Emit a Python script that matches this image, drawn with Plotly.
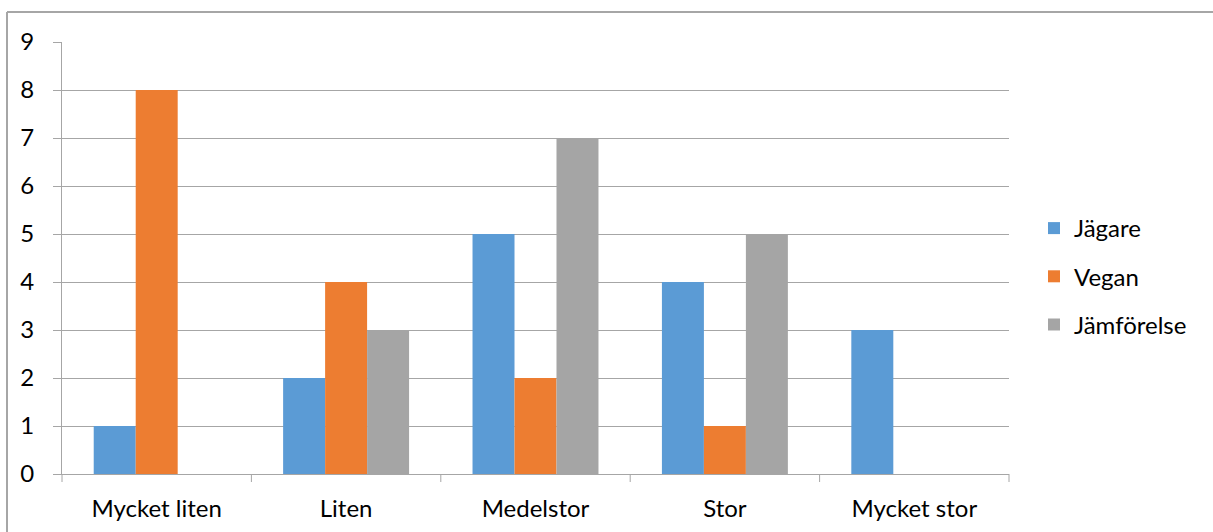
import plotly.graph_objects as go

categories = ["Mycket liten", "Liten", "Medelstor", "Stor", "Mycket stor"]
jagare = [1, 2, 5, 4, 3]
vegan = [8, 4, 2, 1, 0]
jamforelse = [0, 3, 7, 5, 0]

series = [
    ("Jägare", jagare, "#5B9BD5"),
    ("Vegan", vegan, "#ED7D31"),
    ("Jämförelse", jamforelse, "#A5A5A5"),
]

FONT = "Lato, 'Open Sans', sans-serif"
FS = 24

fig = go.Figure()
for name, vals, color in series:
    fig.add_trace(go.Bar(
        x=categories, y=vals, name=name, legendgroup=name,
        marker=dict(color=color, line=dict(width=0)),
    ))

W, H = 1213, 532
ml, mr, mt, mb = 62, 204, 42, 58
pw, ph = W - ml - mr, H - mt - mb

def px_x(p):
    return (p - ml) / pw

def px_y(p):
    return (H - mb - p) / ph

# outer chart frame (left and top edges visible)
fig.add_shape(type="line", xref="paper", yref="paper",
              x0=px_x(7), x1=px_x(7), y0=px_y(12), y1=px_y(545),
              line=dict(color="#A6A6A6", width=2))
fig.add_shape(type="line", xref="paper", yref="paper",
              x0=px_x(7), x1=px_x(1225), y0=px_y(12), y1=px_y(12),
              line=dict(color="#A6A6A6", width=2))

# category boundary tick marks below the x axis
for i in range(len(categories) + 1):
    xp = i / len(categories)
    fig.add_shape(type="line", xref="paper", yref="paper",
                  x0=xp, x1=xp, y0=0, y1=px_y(H - mb + 8),
                  line=dict(color="#A6A6A6", width=1))

fig.update_layout(
    width=W, height=H,
    margin=dict(l=ml, r=mr, t=mt, b=mb, autoexpand=False),
    paper_bgcolor="white", plot_bgcolor="white",
    barmode="group", bargap=0.335, bargroupgap=0,
    font=dict(family=FONT, size=FS, color="#000000"),
    showlegend=True,
    legend=dict(
        x=px_x(1034), y=px_y(206), xanchor="left", yanchor="top",
        font=dict(family=FONT, size=FS, color="#000000"),
        itemwidth=30, tracegroupgap=14, bgcolor="rgba(0,0,0,0)",
    ),
    xaxis=dict(
        showgrid=False, showline=True, linecolor="#A6A6A6", linewidth=1,
        ticks="", tickfont=dict(family=FONT, size=FS), fixedrange=True,
        ticklabelstandoff=13, automargin=False,
    ),
    yaxis=dict(
        range=[0, 9], dtick=1, showgrid=True, gridcolor="#A6A6A6", gridwidth=1,
        showline=True, linecolor="#A6A6A6", linewidth=1,
        ticks="outside", ticklen=8, tickcolor="#A6A6A6",
        zeroline=False, tickfont=dict(family=FONT, size=FS), ticklabelstandoff=14,
        automargin=False,
    ),
)

fig.write_html("out.html")
